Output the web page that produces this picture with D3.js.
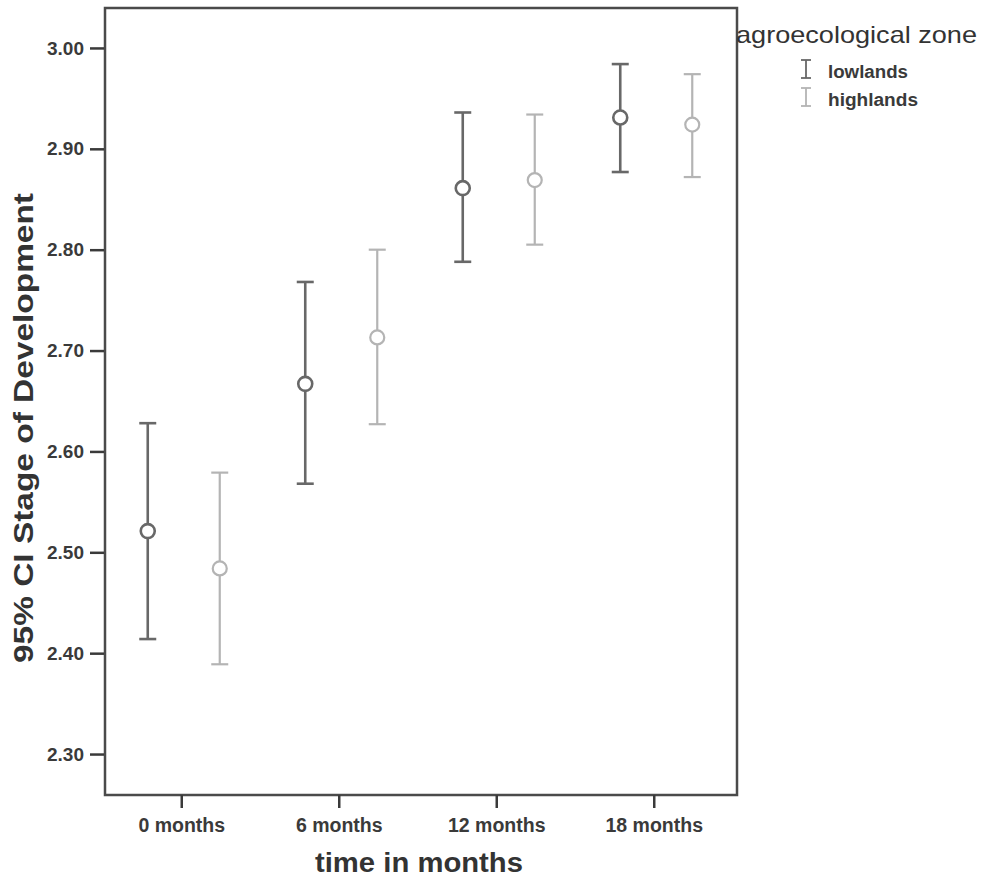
<!DOCTYPE html>
<html><head><meta charset="utf-8">
<script src="https://cdn.jsdelivr.net/npm/d3@7"></script>
<style>body{margin:0;background:#fff;} svg{display:block;font-family:"Liberation Sans",Arial,sans-serif;}</style>
</head><body>
<script>
const categories = ["0 months","6 months","12 months","18 months"];
const groups = ["lowlands","highlands"];
const lowMean  = [2.521, 2.667, 2.861, 2.931];
const lowLower = [2.414, 2.568, 2.788, 2.877];
const lowUpper = [2.628, 2.768, 2.936, 2.984];
const highMean  = [2.484, 2.713, 2.869, 2.924];
const highLower = [2.389, 2.627, 2.805, 2.872];
const highUpper = [2.579, 2.800, 2.934, 2.974];
const yTicks = [2.30,2.40,2.50,2.60,2.70,2.80,2.90,3.00];
const colors = {lowlands:"#686868", highlands:"#b4b4b4"};

const W=985,H=882;
const svg=d3.select("body").append("svg").attr("width",W).attr("height",H);
const L=105,R=737,T=8,B=795;
const y=d3.scaleLinear().domain([2.2594,3.0396]).range([B,T]);
const x=d3.scaleBand().domain(categories).range([L-2,R-4]);
const xg=d3.scalePoint().domain(groups).range([-34,38]);
const FONT="Liberation Sans, Arial, sans-serif";

// frame
svg.append("rect").attr("x",L).attr("y",T).attr("width",R-L).attr("height",B-T)
  .attr("fill","none").attr("stroke","#4a4a4a").attr("stroke-width",2.5);

// y axis
const ya=svg.append("g").attr("transform",`translate(${L-1},0)`)
  .call(d3.axisLeft(y).tickValues(yTicks).tickFormat(d3.format(".2f")).tickSize(14).tickPadding(6));
ya.select(".domain").remove();
ya.selectAll(".tick line").attr("stroke","#3a3a3a").attr("stroke-width",2.5);
ya.selectAll(".tick text").attr("fill","#3a3a3a").style("font-size","19px").style("font-weight","bold").style("font-family",FONT);

// x axis
const xa=svg.append("g").attr("transform",`translate(0,${B})`)
  .call(d3.axisBottom(x).tickSize(13).tickPadding(10));
xa.select(".domain").remove();
xa.selectAll(".tick line").attr("stroke","#3a3a3a").attr("stroke-width",2.5);
xa.selectAll(".tick text").attr("fill","#3a3a3a").style("font-size","19.5px").style("font-weight","bold").style("font-family",FONT);

// data
const series=[
  {g:"lowlands",mean:lowMean,lo:lowLower,hi:lowUpper,w:2.6},
  {g:"highlands",mean:highMean,lo:highLower,hi:highUpper,w:2.2}
];
const cap=8.5;
series.forEach(s=>{
  const gg=svg.append("g").attr("stroke",colors[s.g]).attr("fill","none").attr("stroke-width",s.w);
  categories.forEach((c,i)=>{
    const cx=x(c)+x.bandwidth()/2+xg(s.g);
    gg.append("line").attr("x1",cx).attr("x2",cx).attr("y1",y(s.lo[i])).attr("y2",y(s.hi[i]));
    gg.append("line").attr("x1",cx-cap).attr("x2",cx+cap).attr("y1",y(s.lo[i])).attr("y2",y(s.lo[i]));
    gg.append("line").attr("x1",cx-cap).attr("x2",cx+cap).attr("y1",y(s.hi[i])).attr("y2",y(s.hi[i]));
    gg.append("circle").attr("cx",cx).attr("cy",y(s.mean[i])).attr("r",7).attr("fill","#fff");
  });
});

// axis titles
svg.append("text").attr("x",419).attr("y",872).attr("text-anchor","middle")
  .attr("textLength",208).attr("lengthAdjust","spacingAndGlyphs")
  .style("font-size","27px").style("font-weight","bold").attr("fill","#333").text("time in months");
svg.append("text").attr("transform","translate(33,428) rotate(-90)").attr("text-anchor","middle")
  .attr("textLength",470).attr("lengthAdjust","spacingAndGlyphs")
  .style("font-size","28px").style("font-weight","bold").attr("fill","#333").text("95% CI Stage of Development");

// legend
svg.append("text").attr("x",736).attr("y",43).attr("textLength",241).attr("lengthAdjust","spacingAndGlyphs")
  .style("font-size","24px").attr("fill","#333").text("agroecological zone");
groups.forEach((g,i)=>{
  const cy=69+i*28, lx=806;
  const lg=svg.append("g").attr("stroke",colors[g]).attr("stroke-width",1.8);
  lg.append("line").attr("x1",lx).attr("x2",lx).attr("y1",cy-9).attr("y2",cy+9);
  lg.append("line").attr("x1",lx-5).attr("x2",lx+5).attr("y1",cy-9).attr("y2",cy-9);
  lg.append("line").attr("x1",lx-5).attr("x2",lx+5).attr("y1",cy+9).attr("y2",cy+9);
  svg.append("text").attr("x",828).attr("y",cy+9).attr("lengthAdjust","spacingAndGlyphs")
    .style("font-size","18px").style("font-weight","bold").attr("fill","#3a3a3a")
    .attr("textLength", g==="lowlands"?80:90).text(g);
});
</script>
</body></html>
